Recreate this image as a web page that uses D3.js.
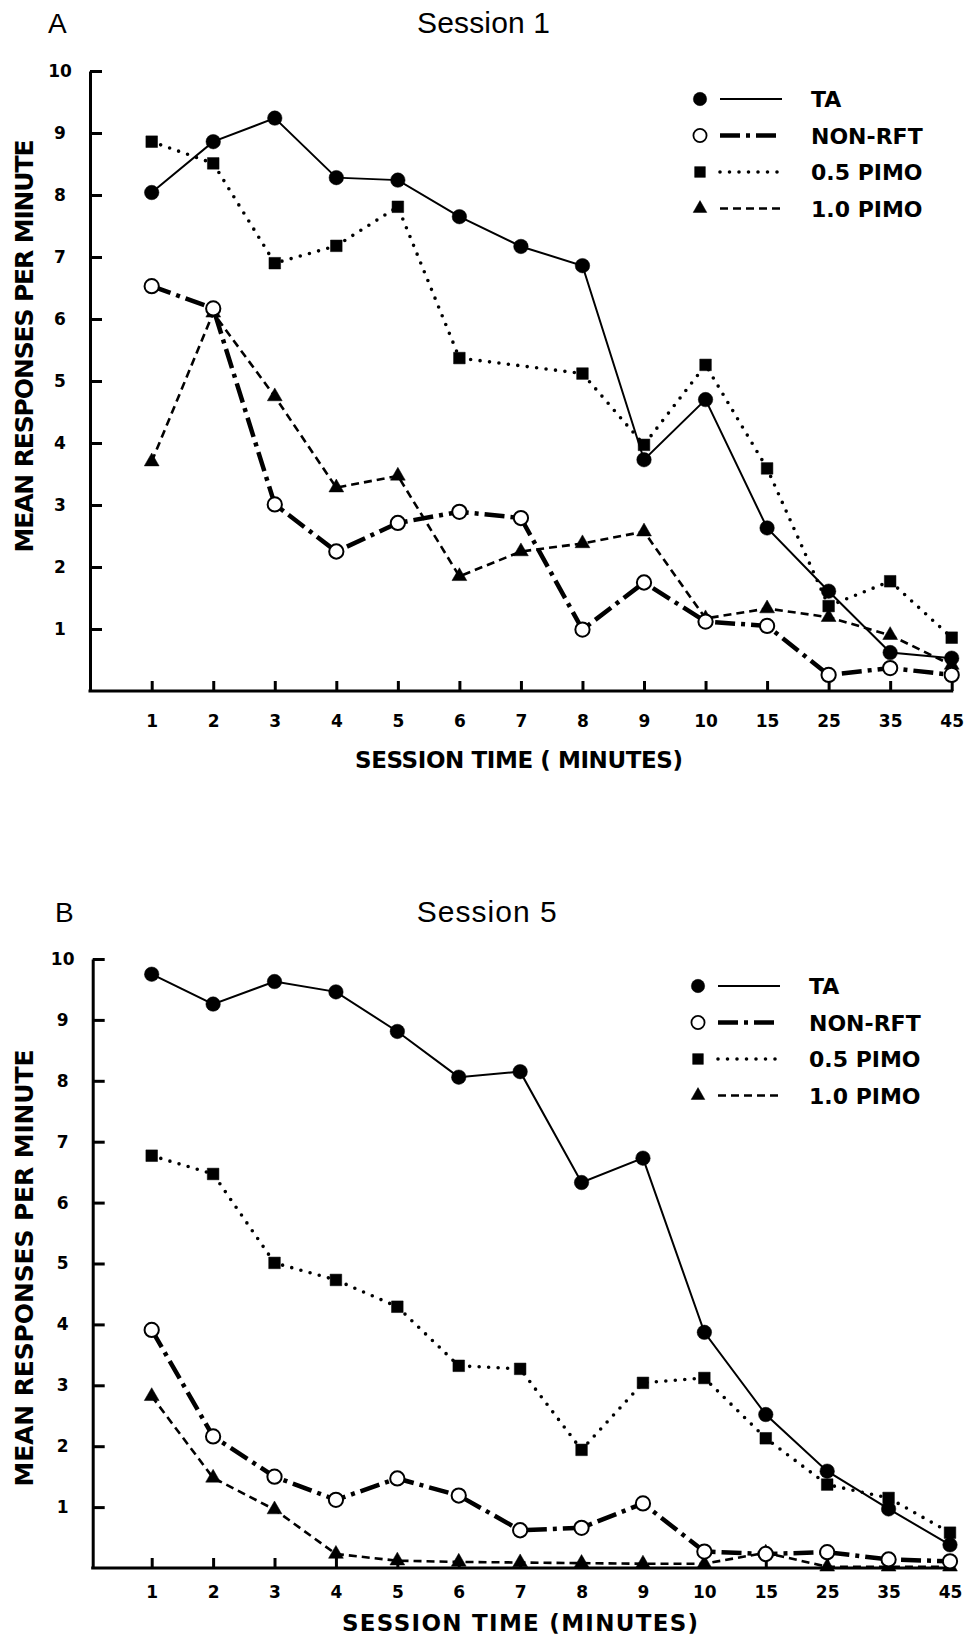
<!DOCTYPE html>
<html>
<head>
    <title>Session 1 / Session 5</title>
    <script src="https://cdnjs.cloudflare.com/ajax/libs/d3/7.8.5/d3.min.js"></script>
    <style>
        body {
            margin: 0;
            background-color: #fff;
        }

        svg {
            display: block;
        }

        .axis path,
        .axis line {
            stroke: #000;
            stroke-width: 3px;
        }

        .axis .tick text {
            font-family: "DejaVu Sans", sans-serif;
            font-weight: bold;
            font-size: 17px;
            fill: #000;
        }

        .bold {
            font-family: "DejaVu Sans", sans-serif;
            font-weight: bold;
            fill: #000;
        }

        .title {
            font-family: "Liberation Sans", Arial, sans-serif;
            fill: #000;
        }
    </style>
</head>

<body>
    <div id="chart"></div>

    <script>
        // x categories (session time, minutes)
        const times = ["1", "2", "3", "4", "5", "6", "7", "8", "9", "10", "15", "25", "35", "45"];
        const yTicks = [1, 2, 3, 4, 5, 6, 7, 8, 9, 10];
        const seriesNames = ["TA", "NON-RFT", "0.5 PIMO", "1.0 PIMO"];

        // Session 1 (panel A)
        const s1TA = [8.04, 8.86, 9.24, 8.28, 8.24, 7.65, 7.17, 6.86, 3.73, 4.70, 2.63, 1.61, 0.62, 0.53];
        const s1NonRft = [6.53, 6.17, 3.01, 2.25, 2.71, 2.89, 2.79, 0.99, 1.75, 1.12, 1.05, 0.26, 0.37, 0.26];
        const s1Pimo05 = [8.86, 8.51, 6.90, 7.18, 7.81, 5.37, null, 5.12, 3.97, 5.26, 3.59, 1.37, 1.77, 0.86];
        const s1Pimo10 = [3.70, 6.10, 4.75, 3.28, 3.47, 1.85, 2.25, 2.38, 2.57, 1.17, 1.33, 1.19, 0.90, 0.42];

        // Session 5 (panel B)
        const s5TA = [9.75, 9.26, 9.63, 9.46, 8.81, 8.06, 8.15, 6.33, 6.73, 3.87, 2.52, 1.59, 0.97, 0.38];
        const s5NonRft = [3.91, 2.16, 1.50, 1.12, 1.47, 1.19, 0.62, 0.66, 1.06, 0.27, 0.23, 0.26, 0.14, 0.11];
        const s5Pimo05 = [6.77, 6.47, 5.01, 4.73, 4.29, 3.32, 3.27, 1.94, 3.04, 3.12, 2.13, 1.37, 1.15, 0.58];
        const s5Pimo10 = [2.82, 1.48, 0.96, 0.23, 0.12, 0.10, 0.09, 0.08, 0.07, 0.07, 0.25, 0.02, 0.02, 0.02];

        const width = 969, height = 1639;

        const styles = [
            { symbol: d3.symbolCircle, size: 165, fill: "#000", dash: null, lw: 2, cap: "butt" },
            { symbol: d3.symbolCircle, size: 160, fill: "#fff", dash: "20,6,4,6", lw: 4.5, cap: "butt" },
            { symbol: d3.symbolSquare, size: 135, fill: "#000", dash: "0,9.5", lw: 3.6, cap: "round" },
            { symbol: d3.symbolTriangle, size: 95, fill: "#000", dash: "8,5", lw: 2.6, cap: "butt" }
        ];

        const panels = [
            {
                letter: "A", title: "Session 1", series: [s1TA, s1NonRft, s1Pimo05, s1Pimo10],
                axisX: 90, firstX: 151.7, lastX: 951.7, top: 71, bottom: 691,
                headY: 33, letterX: 48, titleX: 483.5, titleLen: 133,
                xTitle: "SESSION TIME ( MINUTES)", xTitleX: 519, xTitleY: 768, xTitleLen: 328, tickPad: 24,
                yTitleY: 346, yTitleLen: 413, legendX: 700, legendY: 99
            },
            {
                letter: "B", title: "Session 5", series: [s5TA, s5NonRft, s5Pimo05, s5Pimo10],
                axisX: 92.7, firstX: 151.7, lastX: 950, top: 959, bottom: 1568,
                headY: 921.7, letterX: 55, titleX: 486.7, titleLen: 140,
                xTitle: "SESSION TIME (MINUTES)", xTitleX: 520, xTitleY: 1631, xTitleLen: 356, tickPad: 18,
                yTitleY: 1268, yTitleLen: 437, legendX: 698, legendY: 986
            }
        ];

        const svg = d3.select("#chart").append("svg")
            .attr("width", width)
            .attr("height", height);

        panels.forEach(p => drawPanel(p));

        function drawPanel(p) {
            const g = svg.append("g");

            const x = d3.scalePoint().domain(times).range([p.firstX, p.lastX]);
            const y = d3.scaleLinear().domain([0, 10]).range([p.bottom, p.top]);

            // headings
            g.append("text")
                .attr("class", "title")
                .attr("x", p.letterX)
                .attr("y", p.headY)
                .attr("font-size", 28)
                .text(p.letter);

            g.append("text")
                .attr("class", "title")
                .attr("x", p.titleX)
                .attr("y", p.headY)
                .attr("font-size", 30)
                .attr("text-anchor", "middle")
                .attr("textLength", p.titleLen)
                .text(p.title);

            // y axis
            g.append("g")
                .attr("class", "axis")
                .attr("transform", `translate(${p.axisX},0)`)
                .call(d3.axisLeft(y).tickValues(yTicks).tickSizeInner(-12).tickSizeOuter(0).tickPadding(30))
                .selectAll(".tick text")
                .attr("text-anchor", "middle");

            // x axis
            const xa = g.append("g")
                .attr("class", "axis")
                .attr("transform", `translate(0,${p.bottom})`)
                .call(d3.axisBottom(x).tickSizeInner(-10).tickSizeOuter(0).tickPadding(p.tickPad));
            xa.select(".domain").remove();
            xa.append("line")
                .attr("x1", p.axisX - 1.5)
                .attr("x2", p.lastX + 1.5)
                .attr("y1", 0)
                .attr("y2", 0);

            // axis titles
            g.append("text")
                .attr("class", "bold")
                .attr("x", p.xTitleX)
                .attr("y", p.xTitleY)
                .attr("font-size", 23)
                .attr("text-anchor", "middle")
                .attr("textLength", p.xTitleLen)
                .text(p.xTitle);

            g.append("text")
                .attr("class", "bold")
                .attr("transform", `translate(33,${p.yTitleY}) rotate(-90)`)
                .attr("font-size", 25)
                .attr("text-anchor", "middle")
                .attr("textLength", p.yTitleLen)
                .text("MEAN RESPONSES PER MINUTE");

            const line = d3.line().x(d => x(d.t)).y(d => y(d.v));

            const pts = p.series.map(vals =>
                times.map((t, i) => ({ t: t, v: vals[i] })).filter(d => d.v !== null));

            // lines
            [3, 2, 1, 0].forEach(k => {
                const s = styles[k];
                g.append("path")
                    .datum(pts[k])
                    .attr("fill", "none")
                    .attr("stroke", "#000")
                    .attr("stroke-width", s.lw)
                    .attr("stroke-linecap", s.cap)
                    .attr("stroke-dasharray", s.dash)
                    .attr("d", line);
            });

            // markers
            [3, 2, 0, 1].forEach(k => {
                const s = styles[k];
                g.selectAll(null)
                    .data(pts[k])
                    .enter().append("path")
                    .attr("transform", d => `translate(${x(d.t)},${y(d.v)})`)
                    .attr("d", d3.symbol().type(s.symbol).size(s.size))
                    .attr("fill", s.fill)
                    .attr("stroke", "#000")
                    .attr("stroke-width", k === 1 ? 2 : 0.5);
            });

            // legend
            const lg = g.append("g").attr("transform", `translate(${p.legendX},${p.legendY})`);
            seriesNames.forEach((name, i) => {
                const s = styles[i];
                const row = lg.append("g").attr("transform", `translate(0,${i * 36.5})`);
                row.append("path")
                    .attr("d", d3.symbol().type(s.symbol).size(s.size * 0.85))
                    .attr("fill", s.fill)
                    .attr("stroke", "#000")
                    .attr("stroke-width", i === 1 ? 1.8 : 0.5);
                row.append("line")
                    .attr("x1", 20)
                    .attr("x2", 82)
                    .attr("stroke", "#000")
                    .attr("stroke-width", i === 0 ? 2 : s.lw)
                    .attr("stroke-linecap", s.cap)
                    .attr("stroke-dasharray", s.dash);
                row.append("text")
                    .attr("class", "bold")
                    .attr("x", 111)
                    .attr("y", 8)
                    .attr("font-size", 22)
                    .text(name);
            });
        }
    </script>
</body>
</html>
